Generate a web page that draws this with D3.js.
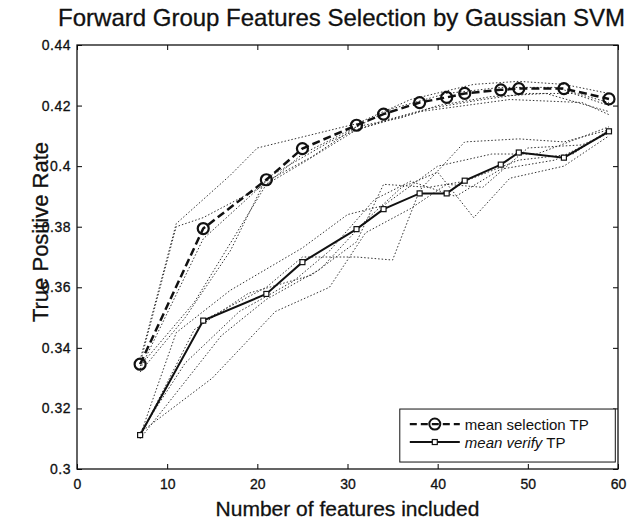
<!DOCTYPE html>
<html>
<head>
<meta charset="utf-8">
<script src="https://cdn.jsdelivr.net/npm/d3@7"></script>
<style>
  body { margin: 0; background: #fff; }
  text { font-family: "Liberation Sans", Arial, sans-serif; fill: #111; }
</style>
</head>
<body>
<div id="chart"></div>
<script>
// mean curves
var selX = [7, 14, 21, 25, 31, 34, 38, 41, 43, 47, 49, 54, 59];
var selTP = [0.3346, 0.3794, 0.3955, 0.4058, 0.4135, 0.4172, 0.4210, 0.4227, 0.4240, 0.4252, 0.4256, 0.4256, 0.4222];
var verX = [7, 14, 21, 25, 31, 34, 38, 41, 43, 47, 49, 54, 59];
var verTP = [0.3112, 0.3490, 0.3578, 0.3683, 0.3792, 0.3858, 0.3910, 0.3910, 0.3952, 0.4005, 0.4045, 0.4028, 0.4115];

// individual runs (dotted)
var selRuns = [
  [[7,0.336],[11,0.381],[17,0.397],[20,0.406],[31,0.414],[37,0.422],[44,0.427],[49,0.428],[54,0.427],[59,0.424]],
  [[7,0.335],[11,0.380],[14,0.383],[21,0.394],[25,0.404],[31,0.413],[35,0.419],[41,0.424],[47,0.426],[53,0.426],[59,0.421]],
  [[7,0.333],[14,0.376],[21,0.395],[26,0.403],[31,0.413],[36,0.416],[40,0.420],[46,0.423],[52,0.424],[59,0.418]],
  [[7,0.334],[13,0.355],[21,0.394],[25,0.401],[31,0.412],[34,0.415],[39,0.419],[45,0.422],[50,0.424],[55,0.424],[59,0.420]],
  [[7,0.332],[12,0.350],[17,0.372],[21,0.396],[28,0.408],[31,0.412],[38,0.418],[43,0.420],[48,0.422],[56,0.421],[59,0.417]]
];
var verRuns = [
  [[7,0.311],[14,0.349],[21,0.360],[25,0.370],[31,0.370],[35,0.369],[38,0.392],[43,0.408],[49,0.409],[54,0.408],[59,0.412]],
  [[7,0.312],[12,0.335],[18,0.352],[24,0.362],[28,0.372],[33,0.389],[37,0.395],[42,0.390],[47,0.399],[53,0.402],[59,0.411]],
  [[7,0.310],[16,0.344],[21,0.356],[27,0.366],[32,0.382],[36,0.393],[40,0.398],[44,0.383],[48,0.396],[54,0.400],[59,0.410]],
  [[7,0.311],[13,0.346],[19,0.358],[26,0.364],[31,0.375],[34,0.394],[39,0.393],[43,0.395],[49,0.402],[55,0.404],[59,0.412]],
  [[7,0.312],[15,0.330],[22,0.352],[28,0.360],[32,0.378],[37,0.386],[41,0.394],[45,0.393],[50,0.406],[56,0.407],[59,0.411]],
  [[7,0.311],[11,0.345],[17,0.359],[25,0.373],[30,0.384],[34,0.387],[40,0.400],[46,0.404],[51,0.404],[59,0.413]]
];

var xTicks = [0, 10, 20, 30, 40, 50, 60];
var yTicks = [0.3, 0.32, 0.34, 0.36, 0.38, 0.4, 0.42, 0.44];

var margin = {top: 45, right: 10, bottom: 52, left: 77},
    width = 628 - margin.left - margin.right,
    height = 521 - margin.top - margin.bottom;

var svg = d3.select("#chart")
  .append("svg")
    .attr("width", 628)
    .attr("height", 521)
  .append("g")
    .attr("transform", "translate(" + margin.left + "," + margin.top + ")");

var x = d3.scaleLinear().domain([0, 60]).range([0, width]);
var y = d3.scaleLinear().domain([0.3, 0.44]).range([height, 0]);

// title
svg.append("text")
  .attr("x", width / 2 - 6)
  .attr("y", -19)
  .attr("text-anchor", "middle")
  .style("font-size", "24px")
  .style("stroke", "#111")
  .style("stroke-width", 0.3)
  .text("Forward Group Features Selection by Gaussian SVM");

// axes (ticks pointing inwards, box on)
var fmt = function(d) { return d3.format("")(+d.toFixed(2)); };
svg.append("g")
  .attr("transform", "translate(0," + height + ")")
  .call(d3.axisBottom(x).tickValues(xTicks).tickSizeInner(-5).tickSizeOuter(0).tickPadding(10))
  .call(function(g) {
    g.select(".domain").remove();
    g.selectAll("text").style("font-size", "14px").attr("fill", "#111")
      .style("stroke", "#111").style("stroke-width", 0.3);
  });
svg.append("g")
  .call(d3.axisLeft(y).tickValues(yTicks).tickFormat(fmt).tickSizeInner(-5).tickSizeOuter(0).tickPadding(6))
  .call(function(g) {
    g.select(".domain").remove();
    g.selectAll("text").style("font-size", "14px").attr("fill", "#111")
      .style("stroke", "#111").style("stroke-width", 0.3).style("letter-spacing", "0.5px");
  });
svg.append("g")
  .call(d3.axisTop(x).tickValues(xTicks).tickSizeInner(-5).tickSizeOuter(0).tickFormat(""))
  .call(function(g) { g.select(".domain").remove(); });
svg.append("g")
  .attr("transform", "translate(" + width + ",0)")
  .call(d3.axisRight(y).tickValues(yTicks).tickSizeInner(-5).tickSizeOuter(0).tickFormat(""))
  .call(function(g) { g.select(".domain").remove(); });

svg.append("rect")
  .attr("width", width)
  .attr("height", height)
  .attr("fill", "none")
  .attr("stroke", "#111")
  .attr("stroke-width", 1.3);

// axis labels
svg.append("text")
  .attr("x", width / 2)
  .attr("y", height + 47)
  .attr("text-anchor", "middle")
  .style("font-size", "21px")
  .style("stroke", "#111")
  .style("stroke-width", 0.3)
  .text("Number of features included");

svg.append("text")
  .attr("transform", "rotate(-90)")
  .attr("x", -(height / 2) + 25)
  .attr("y", -29)
  .attr("text-anchor", "middle")
  .style("font-size", "22px")
  .style("stroke", "#111")
  .style("stroke-width", 0.3)
  .text("True Positive Rate");

var line = d3.line()
  .x(function(d) { return x(d[0]); })
  .y(function(d) { return y(d[1]); });

// dotted runs
svg.append("g")
  .selectAll("path")
  .data(selRuns.concat(verRuns))
  .enter()
  .append("path")
    .attr("d", line)
    .attr("fill", "none")
    .attr("stroke", "#333")
    .attr("stroke-width", 1)
    .attr("stroke-dasharray", "1.5,2");

var selData = selX.map(function(d, i) { return [d, selTP[i]]; });
var verData = verX.map(function(d, i) { return [d, verTP[i]]; });

// mean selection TP
svg.append("path")
  .datum(selData)
  .attr("d", line)
  .attr("fill", "none")
  .attr("stroke", "#111")
  .attr("stroke-width", 2.5)
  .attr("stroke-dasharray", "8,4");
svg.append("g")
  .selectAll("circle")
  .data(selData)
  .enter()
  .append("circle")
    .attr("cx", function(d) { return x(d[0]); })
    .attr("cy", function(d) { return y(d[1]); })
    .attr("r", 5.5)
    .attr("fill", "none")
    .attr("stroke", "#111")
    .attr("stroke-width", 2.2);

// mean verify TP
svg.append("path")
  .datum(verData)
  .attr("d", line)
  .attr("fill", "none")
  .attr("stroke", "#111")
  .attr("stroke-width", 2);
svg.append("g")
  .selectAll("rect")
  .data(verData)
  .enter()
  .append("rect")
    .attr("x", function(d) { return x(d[0]) - 2.5; })
    .attr("y", function(d) { return y(d[1]) - 2.5; })
    .attr("width", 5)
    .attr("height", 5)
    .attr("fill", "#fff")
    .attr("stroke", "#111")
    .attr("stroke-width", 1.2);

// legend
var lx = x(35.8), ly = y(0.3198);
var legend = svg.append("g").attr("transform", "translate(" + lx + "," + ly + ")");
legend.append("rect")
  .attr("width", x(59.7) - lx)
  .attr("height", 53)
  .attr("fill", "#fff")
  .attr("stroke", "#111")
  .attr("stroke-width", 1);
legend.append("line")
  .attr("x1", 10).attr("x2", 60).attr("y1", 15).attr("y2", 15)
  .attr("stroke", "#111").attr("stroke-width", 2.2).attr("stroke-dasharray", "7,4");
legend.append("circle")
  .attr("cx", 35).attr("cy", 15).attr("r", 5.5)
  .attr("fill", "none").attr("stroke", "#111").attr("stroke-width", 2);
legend.append("line")
  .attr("x1", 10).attr("x2", 60).attr("y1", 33).attr("y2", 33)
  .attr("stroke", "#111").attr("stroke-width", 2);
legend.append("rect")
  .attr("x", 32.5).attr("y", 30.5).attr("width", 5).attr("height", 5)
  .attr("fill", "#fff").attr("stroke", "#111").attr("stroke-width", 1.2);
legend.append("text")
  .attr("x", 65).attr("y", 20.5)
  .style("font-size", "15px")
  .text("mean selection TP");
var t2 = legend.append("text")
  .attr("x", 65).attr("y", 38.5)
  .style("font-size", "15px");
t2.append("tspan").style("font-style", "italic").text("mean verify");
t2.append("tspan").text(" TP");
</script>
</body>
</html>
